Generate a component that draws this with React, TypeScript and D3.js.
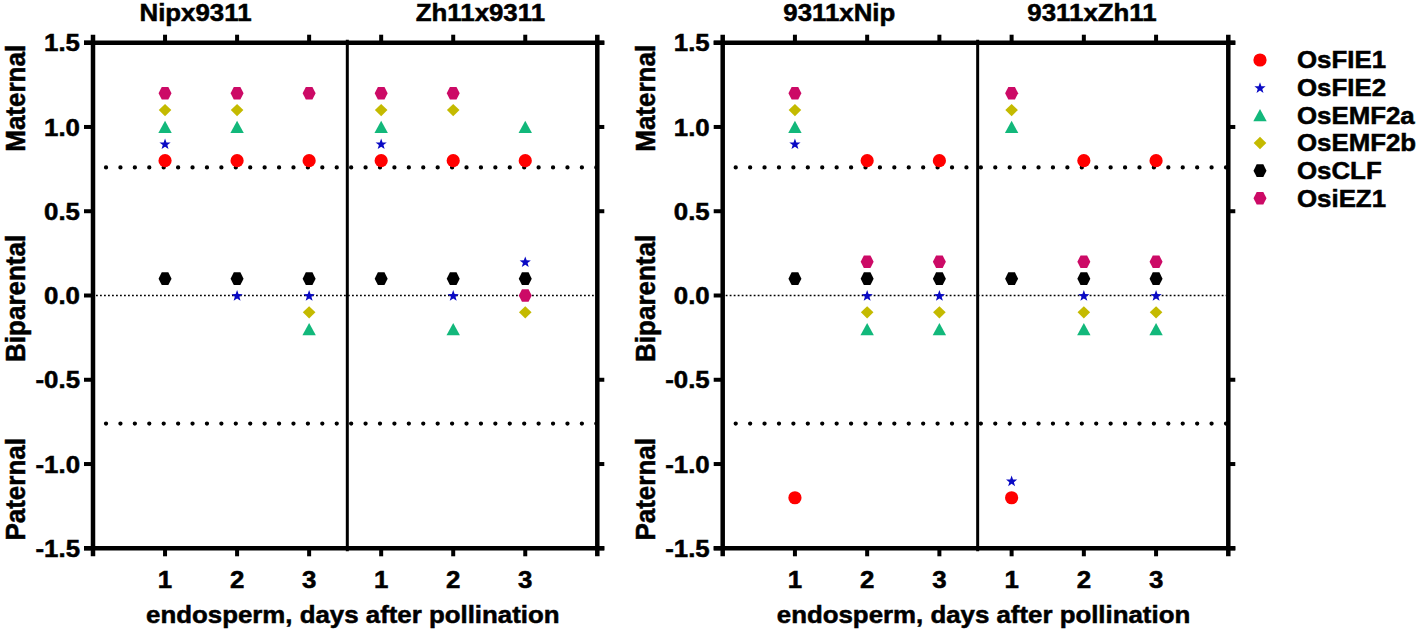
import React from "react";
import * as d3 from "d3";

// ---------- data ----------
const genes = ["OsFIE1", "OsFIE2", "OsEMF2a", "OsEMF2b", "OsCLF", "OsiEZ1"];
const geneColors = ["#FF0000", "#0A0AC4", "#12B87B", "#C4BA00", "#000000", "#CC0A66"];
const geneShapes = ["circle", "star", "triangle", "diamond", "hexagon", "hexagon"];

const dayPositions = [1, 2, 3, 4, 5, 6];
const dayLabels = ["1", "2", "3", "1", "2", "3"];
const yTicks = [1.5, 1.0, 0.5, 0.0, -0.5, -1.0, -1.5];
const sideLabels = ["Maternal", "Biparental", "Paternal"];
const sideLabelValues = [1.17, -0.017, -1.15];
const thresholds = [0.76, -0.76];
const xAxisLabel = "endosperm, days after pollination";

const leftTitles = ["Nipx9311", "Zh11x9311"];
const rightTitles = ["9311xNip", "9311xZh11"];

// left panel: Nipx9311 days 1-3, Zh11x9311 days 1-3
const leftOsFIE1 = [0.8, 0.8, 0.8, 0.8, 0.8, 0.8];
const leftOsFIE2 = [0.9, 0.0, 0.0, 0.9, 0.0, 0.2];
const leftOsEMF2a = [1.0, 1.0, -0.2, 1.0, -0.2, 1.0];
const leftOsEMF2b = [1.1, 1.1, -0.1, 1.1, 1.1, -0.1];
const leftOsCLF = [0.1, 0.1, 0.1, 0.1, 0.1, 0.1];
const leftOsiEZ1 = [1.2, 1.2, 1.2, 1.2, 1.2, 0.0];

// right panel: 9311xNip days 1-3, 9311xZh11 days 1-3
const rightOsFIE1 = [-1.2, 0.8, 0.8, -1.2, 0.8, 0.8];
const rightOsFIE2 = [0.9, 0.0, 0.0, -1.1, 0.0, 0.0];
const rightOsEMF2a = [1.0, -0.2, -0.2, 1.0, -0.2, -0.2];
const rightOsEMF2b = [1.1, -0.1, -0.1, 1.1, -0.1, -0.1];
const rightOsCLF = [0.1, 0.1, 0.1, 0.1, 0.1, 0.1];
const rightOsiEZ1 = [1.2, 0.2, 0.2, 1.2, 0.2, 0.2];

const leftSeries = [leftOsFIE1, leftOsFIE2, leftOsEMF2a, leftOsEMF2b, leftOsCLF, leftOsiEZ1];
const rightSeries = [rightOsFIE1, rightOsFIE2, rightOsEMF2a, rightOsEMF2b, rightOsCLF, rightOsiEZ1];

// ---------- layout ----------
const W = 1418;
const H = 632;
const FONT = "'Liberation Sans', Arial, Helvetica, sans-serif";
const SX = 1.1; // horizontal stretch of the text in the reference
const TXT = { fontFamily: FONT, fontWeight: "bold" as const, fill: "#000", stroke: "#000", strokeWidth: 0.5 };
const yTop = 42.7;
const yBottom = 548.3;
const dividerAt = 3.53;

const panels = [
  { x0: 93, x1: 597.3, titles: leftTitles, titleX: [195.5, 480.4], series: leftSeries, sideX: 25, xlabelX: 352.8 },
  { x0: 722.7, x1: 1228.3, titles: rightTitles, titleX: [839.3, 1092], series: rightSeries, sideX: 655, xlabelX: 983.5 },
];

const y = d3.scaleLinear().domain([-1.5, 1.5]).range([yBottom, yTop]);
const fmt = (v: number) => d3.format(".1f")(v).replace("\u2212", "-");

function shapePath(shape: string): string {
  switch (shape) {
    case "circle":
      return d3.symbol(d3.symbolCircle, Math.PI * 6.6 * 6.6)() as string;
    case "star": {
      const pts: [number, number][] = [];
      for (let i = 0; i < 10; i++) {
        const r = i % 2 === 0 ? 5.9 : 2.4;
        const a = -Math.PI / 2 + (i * Math.PI) / 5;
        pts.push([r * Math.cos(a), r * Math.sin(a) + 0.5]);
      }
      return "M" + pts.map((p) => p.join(",")).join("L") + "Z";
    }
    case "triangle":
      return "M0,-6.3L6.7,6L-6.7,6Z";
    case "diamond":
      return "M0,-6.2L6.3,0L0,6.2L-6.3,0Z";
    default:
      return "M-6.5,0L-3.3,-6.3L3.3,-6.3L6.5,0L3.3,6.3L-3.3,6.3Z";
  }
}

function Panel({ p }: { p: (typeof panels)[number] }) {
  const x = d3.scaleLinear().domain([0, 7]).range([p.x0, p.x1]);
  const axisW = 4.5;
  const tickW = 4;
  return (
    <g>
      {/* thin dotted zero line */}
      <line x1={x(0) + 3} x2={x(7) - 2} y1={y(0)} y2={y(0)} stroke="#000" strokeWidth={1.3} strokeDasharray="1.8 2.2" />
      {/* thick dotted threshold lines */}
      {thresholds.map((t) => (
        <line key={t} x1={x(0)} x2={x(7)} y1={y(t)} y2={y(t)} stroke="#000" strokeWidth={4.3}
          strokeLinecap="round" strokeDasharray="0 14.42" strokeDashoffset={1.4} />
      ))}
      {/* divider */}
      <line x1={x(dividerAt)} x2={x(dividerAt)} y1={y(1.5) - 3} y2={y(-1.5) + 3} stroke="#000" strokeWidth={3} />
      {/* frame */}
      <line x1={x(0)} x2={x(0)} y1={y(1.5) - 8} y2={y(-1.5) + 8} stroke="#000" strokeWidth={axisW} />
      <line x1={x(7)} x2={x(7)} y1={y(1.5) - 8} y2={y(-1.5) + 8} stroke="#000" strokeWidth={axisW} />
      <line x1={x(0) - 9} x2={x(7) + 7} y1={y(1.5)} y2={y(1.5)} stroke="#000" strokeWidth={axisW} />
      <line x1={x(0) - 9} x2={x(7) + 7} y1={y(-1.5)} y2={y(-1.5)} stroke="#000" strokeWidth={axisW} />
      {/* x ticks */}
      {dayPositions.map((d) => (
        <g key={d}>
          <line x1={x(d)} x2={x(d)} y1={y(1.5)} y2={y(1.5) - 8} stroke="#000" strokeWidth={tickW} />
          <line x1={x(d)} x2={x(d)} y1={y(-1.5)} y2={y(-1.5) + 8} stroke="#000" strokeWidth={tickW} />
        </g>
      ))}
      {dayPositions.map((d, i) => (
        <text key={"l" + d} transform={`translate(${x(d)},${y(-1.5) + 39.5}) scale(${SX},1)`} textAnchor="middle"
          fontSize={23.5} {...TXT}>
          {dayLabels[i]}
        </text>
      ))}
      {/* y ticks */}
      {yTicks.map((v) => (
        <g key={v}>
          <line x1={x(0) - 9} x2={x(0)} y1={y(v)} y2={y(v)} stroke="#000" strokeWidth={tickW} />
          {v !== 0 && <line x1={x(7)} x2={x(7) + 7} y1={y(v)} y2={y(v)} stroke="#000" strokeWidth={tickW} />}
          <text transform={`translate(${x(0) - 13},${y(v) + 8.6}) scale(${SX},1)`} textAnchor="end"
            fontSize={23.5} {...TXT}>
            {fmt(v)}
          </text>
        </g>
      ))}
      {/* side labels */}
      {sideLabels.map((s, i) => (
        <text key={s} transform={`translate(${p.sideX},${y(sideLabelValues[i])}) scale(1.05,1) rotate(-90)`}
          textAnchor="middle" fontSize={26} {...TXT}>
          {s}
        </text>
      ))}
      {/* titles */}
      {p.titles.map((t, i) => (
        <text key={t} transform={`translate(${p.titleX[i]},21) scale(${SX},1)`} textAnchor="middle"
          fontSize={23.5} {...TXT}>
          {t}
        </text>
      ))}
      {/* x axis label */}
      <text transform={`translate(${p.xlabelX},622.5) scale(${SX},1)`} textAnchor="middle" fontSize={23.5} {...TXT}>
        {xAxisLabel}
      </text>
      {/* points */}
      {p.series.map((vals, gi) => (
        <g key={genes[gi]} fill={geneColors[gi]}>
          {vals.map((v, di) => (
            <path key={di} d={shapePath(geneShapes[gi])} transform={`translate(${x(dayPositions[di])},${y(v)})`} />
          ))}
        </g>
      ))}
    </g>
  );
}

function Legend() {
  const rowY = d3.scaleLinear().domain([0, genes.length - 1]).range([60, 198.3]);
  return (
    <g>
      {genes.map((g, i) => (
        <g key={g}>
          <path d={shapePath(geneShapes[i])} transform={`translate(1260,${rowY(i)})`} fill={geneColors[i]} />
          <text transform={`translate(1297,${rowY(i) + 8.3}) scale(${SX},1)`} fontSize={23.5} {...TXT}>
            {g}
          </text>
        </g>
      ))}
    </g>
  );
}

export default function App() {
  return (
    <svg width={W} height={H} viewBox={`0 0 ${W} ${H}`}
      style={{ position: "absolute", left: 0, top: 0, background: "#fff", display: "block" }}>
      <rect width={W} height={H} fill="#fff" />
      {panels.map((p, i) => (
        <Panel key={i} p={p} />
      ))}
      <Legend />
    </svg>
  );
}
